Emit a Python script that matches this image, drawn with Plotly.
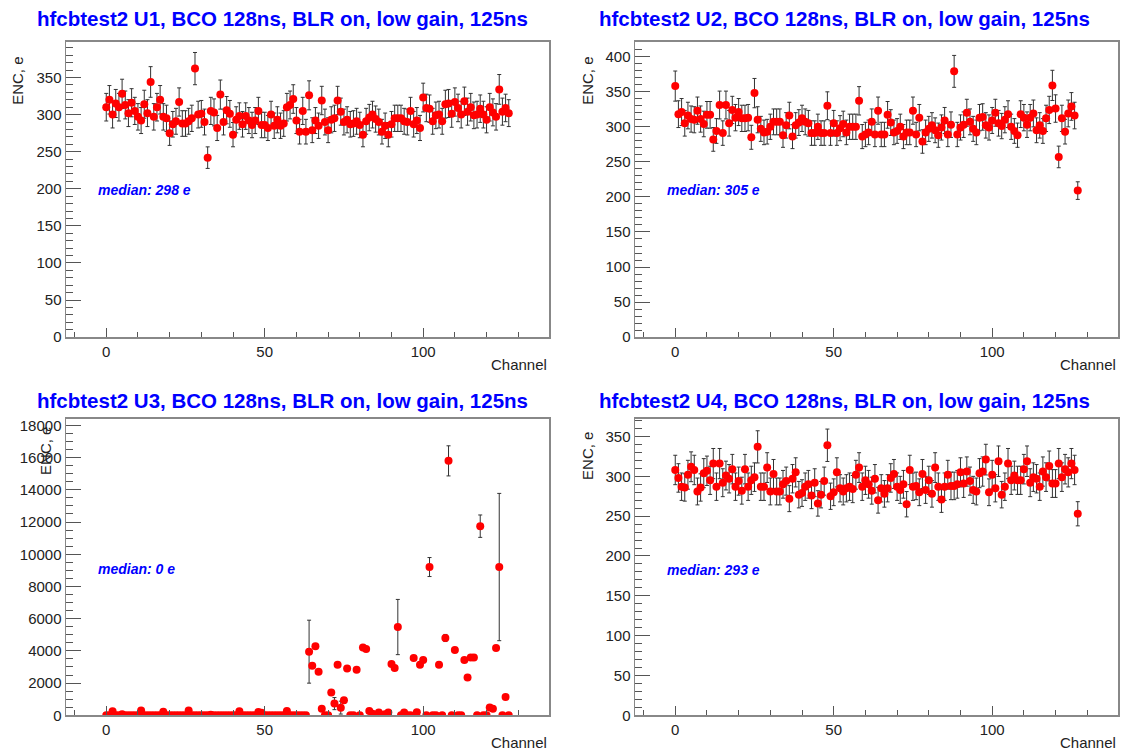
import plotly.graph_objects as go

W, H = 1124, 754
Y_STRETCH = 1.011  # small vertical correction measured against the reference

channels = list(range(128))

enc_u1 = [310, 320, 300, 315, 310, 328, 313, 302, 316, 305,
          297, 292, 314, 302, 344, 297, 310, 320, 297, 295,
          275, 287, 291, 317, 288, 288, 291, 295, 362, 300,
          301, 290, 242, 305, 303, 282, 327, 290, 306, 301,
          273, 293, 298, 287, 298, 292, 286, 292, 305, 286,
          286, 282, 300, 285, 293, 285, 288, 310, 313, 321,
          292, 277, 305, 277, 326, 279, 292, 285, 319, 290,
          279, 293, 295, 319, 304, 290, 293, 287, 288, 291,
          286, 273, 291, 296, 300, 294, 290, 277, 285, 273,
          287, 295, 295, 295, 291, 290, 305, 287, 292, 282,
          323, 309, 308, 291, 299, 300, 291, 314, 315, 301,
          317, 309, 300, 318, 304, 310, 299, 300, 308, 300,
          293, 310, 303, 297, 334, 304, 309, 302]

enc_u2 = [358, 318, 321, 305, 316, 311, 310, 323, 311, 304,
          317, 317, 282, 294, 331, 291, 331, 305, 324, 313,
          321, 312, 312, 313, 285, 348, 310, 297, 292, 293,
          300, 307, 307, 307, 288, 302, 316, 286, 302, 306,
          312, 307, 305, 291, 291, 300, 291, 291, 330, 291,
          305, 291, 298, 304, 292, 300, 300, 300, 337, 286,
          289, 292, 307, 289, 323, 289, 289, 317, 306, 292,
          294, 300, 286, 292, 292, 323, 289, 313, 279, 292,
          297, 302, 295, 288, 299, 309, 289, 303, 379, 289,
          299, 303, 320, 307, 297, 292, 313, 314, 302, 299,
          309, 320, 305, 301, 310, 318, 300, 294, 288, 318,
          313, 303, 313, 319, 295, 302, 294, 312, 324, 359,
          326, 257, 312, 293, 319, 329, 316, 209]

enc_u3 = [0, 0, 250, 0, 0, 60, 0, 0, 0, 0,
          0, 300, 0, 0, 0, 0, 0, 0, 220, 0,
          0, 0, 0, 0, 0, 0, 300, 0, 0, 0,
          0, 0, 0, 40, 0, 0, 0, 0, 0, 0,
          0, 0, 250, 0, 0, 0, 0, 0, 200, 150,
          0, 0, 0, 0, 0, 0, 0, 260, 0, 0,
          0, 0, 0, 0, 3950, 3075, 4280, 2700, 412, 0,
          0, 1410, 725, 3137, 475, 935, 2907, 0, 0, 2825,
          0, 4216, 4116, 270, 100, 0, 170, 0, 60, 170,
          3180, 2930, 5480, 0, 170, 0, 0, 3560, 190, 3137,
          3430, 0, 9206, 0, 0, 3137, 0, 4800, 15800, 0,
          4054, 0, 0, 3430, 2345, 3593, 3593, 0, 11744, 0,
          0, 480, 400, 4180, 9206, 0, 1141, 0]

err_u3 = [0] * 64 + [1955, 0, 0, 0, 0, 0,
          0, 0, 375, 0, 400, 150, 0, 0, 0, 0,
          0, 100, 0, 0, 0, 0, 0, 0, 0, 0,
          0, 0, 1715, 0, 0, 0, 0, 0, 0, 120,
          120, 0, 590, 0, 0, 0, 0, 220, 935, 0,
          0, 0, 0, 0, 0, 0, 0, 0, 695, 0,
          0, 0, 0, 0, 4573, 0, 0, 0]

enc_u4 = [308, 298, 287, 286, 302, 312, 308, 281, 286, 304,
          307, 295, 316, 287, 316, 292, 301, 297, 309, 287,
          294, 282, 309, 287, 295, 299, 337, 287, 287, 311,
          281, 303, 281, 281, 290, 294, 272, 297, 305, 277,
          279, 287, 290, 276, 292, 266, 277, 294, 339, 275,
          280, 305, 285, 281, 285, 287, 284, 302, 311, 287,
          295, 290, 282, 297, 270, 285, 278, 285, 298, 303,
          287, 283, 290, 265, 308, 287, 288, 280, 303, 283,
          295, 278, 311, 287, 271, 287, 302, 288, 288, 290,
          305, 291, 306, 294, 283, 281, 304, 306, 321, 280,
          302, 285, 319, 277, 287, 316, 295, 301, 295, 295,
          309, 319, 292, 299, 297, 287, 306, 299, 313, 291,
          291, 316, 299, 309, 305, 316, 308, 253]

err_pct = 6.0  # relative ENC error for the healthy chips

titles = ["hfcbtest2 U1, BCO 128ns, BLR on, low gain, 125ns",
          "hfcbtest2 U2, BCO 128ns, BLR on, low gain, 125ns",
          "hfcbtest2 U3, BCO 128ns, BLR on, low gain, 125ns",
          "hfcbtest2 U4, BCO 128ns, BLR on, low gain, 125ns"]
medians = ["median: 298 e", "median: 305 e", "median: 0 e", "median: 293 e"]
y_tops = [398, 421, 18400, 372]
y_dticks = [50, 50, 2000, 50]
y_minor = [10, 10, 500, 10]


def px(x):
    return x / W


def py(y):
    return 1 - min(y * Y_STRETCH, H - 1) / H


# screen boxes of the four pads: (left, right, top, bottom)
boxes = [(66, 549, 40, 336), (635, 1118, 40, 336),
         (66, 549, 418, 715), (635, 1118, 418, 715)]
title_y = [17, 17, 399, 399]
median_y = [188, 188, 568, 569]
enc_xy = [(18, 79), (588, 79), (46, 450), (588, 455)]

fig = go.Figure()
series = [enc_u1, enc_u2, enc_u3, enc_u4]
for i, vals in enumerate(series):
    if i == 2:
        ey = dict(type="data", array=err_u3, color="#333333", thickness=1, width=2)
    else:
        ey = dict(type="percent", value=err_pct, color="#333333", thickness=1, width=2)
    fig.add_trace(go.Scatter(
        x=channels, y=vals, mode="markers",
        marker=dict(color="red", size=8, line=dict(width=0)),
        error_y=ey,
        xaxis="x" if i == 0 else f"x{i + 1}",
        yaxis="y" if i == 0 else f"y{i + 1}",
        showlegend=False,
    ))

FONT = "Liberation Sans, Arial, sans-serif"
tick_font = dict(family=FONT, size=15, color="#222222")
layout = dict(width=W, height=H, margin=dict(l=0, r=0, t=0, b=0),
              paper_bgcolor="white", plot_bgcolor="white", showlegend=False)
annotations = []
for i, (l, r, t, b) in enumerate(boxes):
    sx = "" if i == 0 else str(i + 1)
    layout["xaxis" + sx] = dict(
        domain=[px(l), px(r)], range=[-12.7, 139.7], anchor="y" + sx,
        tick0=0, dtick=50, ticks="inside", ticklen=9, tickcolor="#555555",
        minor=dict(dtick=10, ticks="inside", ticklen=5, tickcolor="#555555"),
        showgrid=False, zeroline=False, showline=True, mirror=True,
        linecolor="#888888", linewidth=1.5, tickfont=tick_font)
    layout["yaxis" + sx] = dict(
        domain=[py(b), py(t)], range=[0, y_tops[i]], anchor="x" + sx,
        tick0=0, dtick=y_dticks[i], ticks="inside", ticklen=15, tickcolor="#555555",
        minor=dict(dtick=y_minor[i], ticks="inside", ticklen=7, tickcolor="#555555"),
        showgrid=False, zeroline=False, showline=True, mirror=True,
        linecolor="#888888", linewidth=1.5, tickformat="d", tickfont=tick_font)
    pad_left = 0 if l < 500 else 562
    annotations.append(dict(
        text="<b>" + titles[i] + "</b>", x=px(pad_left + 282), y=py(title_y[i]),
        xref="paper", yref="paper", showarrow=False, xanchor="center", yanchor="middle",
        font=dict(family=FONT, size=20.5, color="blue")))
    annotations.append(dict(
        text="<b><i>" + medians[i] + "</i></b>", x=px(l + 30), y=py(median_y[i]),
        xref="paper", yref="paper", showarrow=False, xanchor="left", yanchor="middle",
        font=dict(family=FONT, size=14, color="blue")))
    annotations.append(dict(
        text="Channel", x=px(r), y=py(b + 17), xref="paper", yref="paper",
        showarrow=False, xanchor="right", yanchor="top",
        font=dict(family=FONT, size=15, color="#222222")))
    ex, ey_ = enc_xy[i]
    annotations.append(dict(
        text="ENC, e", x=px(ex), y=py(ey_), xref="paper", yref="paper",
        showarrow=False, xanchor="center", yanchor="middle", textangle=-90,
        font=dict(family=FONT, size=15, color="#222222")))

layout["annotations"] = annotations
fig.update_layout(**layout)

# drop the default page margin so the figure sits at the window's top-left corner
page_fix = ("document.body.style.margin='0';"
            "document.body.style.overflow='hidden';"
            "document.documentElement.style.overflow='hidden';"
            "window.scrollTo(0,0);")
fig.write_html("out.html", post_script=page_fix,
               config={"displayModeBar": False, "staticPlot": True})
